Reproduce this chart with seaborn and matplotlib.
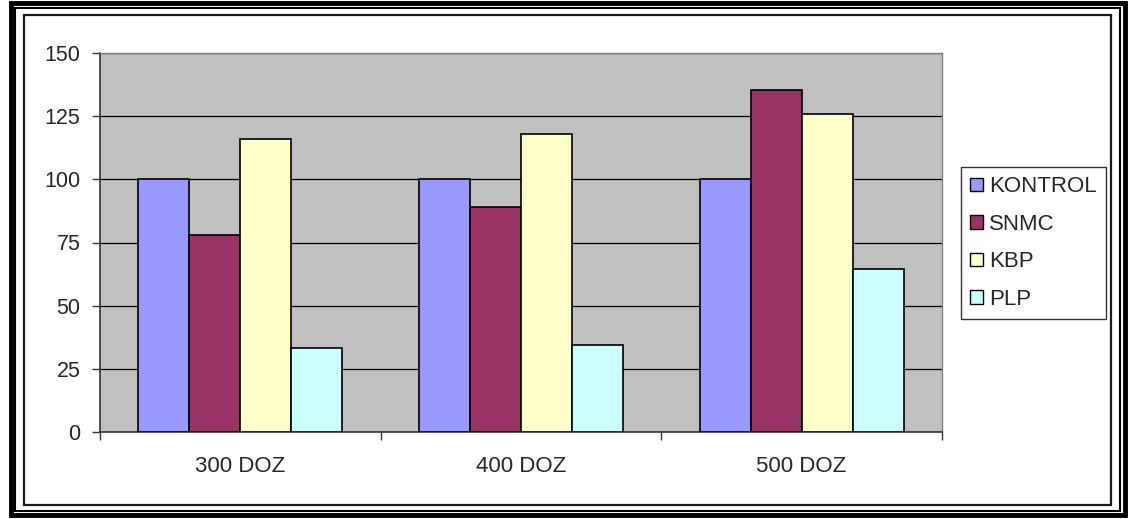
import matplotlib
matplotlib.use("Agg")
import matplotlib.pyplot as plt
from matplotlib.patches import Rectangle, Patch
import pandas as pd
import seaborn as sns

# Data
doses = ["300 DOZ", "400 DOZ", "500 DOZ"]
groups = ["KONTROL", "SNMC", "KBP", "PLP"]
kontrol = [100, 100, 100]
snmc = [78, 89, 135.5]
kbp = [116, 118, 125.7]
plp = [33.3, 34.3, 64.7]
y_ticks = [0, 25, 50, 75, 100, 125, 150]

colors = ["#9999FF", "#993366", "#FFFFCC", "#CCFFFF"]

rows = []
for name, vals in zip(groups, [kontrol, snmc, kbp, plp]):
    for d, v in zip(doses, vals):
        rows.append({"doz": d, "grup": name, "deger": v})
df = pd.DataFrame(rows)

sns.set_style("white")
plt.rcParams["font.family"] = ["Liberation Sans", "DejaVu Sans"]

W, H = 1129, 519
fig = plt.figure(figsize=(W / 100, H / 100), dpi=100)
fig.patch.set_facecolor("white")


def px_rect(x0, y0, x1, y1, **kw):
    """Rectangle given in pixel coordinates (origin top-left)."""
    return Rectangle((x0 / W, 1 - y1 / H), (x1 - x0) / W, (y1 - y0) / H,
                     transform=fig.transFigure, fill=False, **kw)


# Plot area
L, R, T, B = 100, 942, 53, 432
ax = fig.add_axes([L / W, 1 - B / H, (R - L) / W, (B - T) / H])
ax.set_facecolor("#C0C0C0")

sns.barplot(data=df, x="doz", y="deger", hue="grup", order=doses,
            hue_order=groups, palette=colors, saturation=1, width=0.728,
            edgecolor="black", linewidth=1.2, legend=False, ax=ax, zorder=3)

ax.set_xlim(-0.5, 2.5)
ax.set_ylim(0, 150)
ax.set_yticks(y_ticks)
ax.set_yticklabels([str(t) for t in y_ticks], fontsize=15.5)
ax.yaxis.grid(True, color="black", linewidth=0.9, zorder=1)
ax.set_axisbelow(True)

# Category ticks sit between groups; labels sit at group centres
ax.set_xticks([-0.5, 0.5, 1.5, 2.5])
ax.set_xticklabels([])
ax.set_xticks([0, 1, 2], minor=True)
ax.set_xticklabels(doses, minor=True, fontsize=16)
ax.tick_params(axis="x", which="major", direction="out", length=6,
               width=1, color="#333333", bottom=True)
ax.tick_params(axis="x", which="minor", length=0, pad=17)
ax.tick_params(axis="y", direction="out", length=6, width=1,
               color="#333333", left=True, pad=8)
ax.set_xlabel("")
ax.set_ylabel("")

for side in ["top", "right"]:
    ax.spines[side].set_color("#808080")
    ax.spines[side].set_linewidth(1.0)
for side in ["left", "bottom"]:
    ax.spines[side].set_color("#333333")
    ax.spines[side].set_linewidth(1.2)

# Legend
handles = [Patch(facecolor=c, edgecolor="black", linewidth=1.0) for c in colors]
leg = fig.legend(handles, groups, loc="upper left",
                 bbox_to_anchor=(961 / W, 1 - 167 / H), fontsize=16,
                 frameon=True, fancybox=False, shadow=False,
                 handlelength=0.55, handleheight=0.55, handletextpad=0.3,
                 labelspacing=0.74, borderpad=0.42, borderaxespad=0)
leg.get_frame().set_edgecolor("black")
leg.get_frame().set_linewidth(1.0)

# Chart frame and page border
fig.add_artist(px_rect(23.5, 15, 1111, 505, edgecolor="#1a1a1a", linewidth=1.6))
fig.add_artist(px_rect(10.5, 3, 1124.5, 515, edgecolor="black", linewidth=3.5))
fig.add_artist(px_rect(15, 8, 1120, 511, edgecolor="black", linewidth=1.5))

fig.savefig("out.png", dpi=100, facecolor="white")
